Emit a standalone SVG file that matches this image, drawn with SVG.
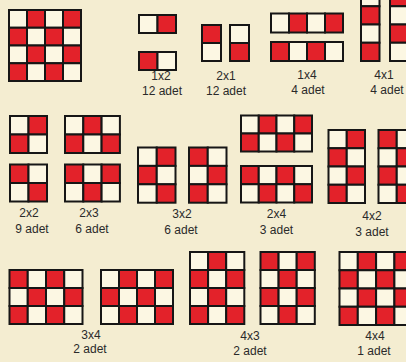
<svg xmlns="http://www.w3.org/2000/svg" width="406" height="362" viewBox="0 0 406 362">
<style>
.bg{fill:#f4edd1}
.r{fill:#e3222a}
.w{fill:#fcf7e3}
.grid rect{stroke:#161616;stroke-width:2}
.lbl{font-family:"Liberation Sans",Arial,sans-serif;font-size:12px;fill:#2a2a2a;text-anchor:middle}
</style>
<rect class="bg" x="0" y="0" width="406" height="362"/>

<g id="board" class="grid">
<rect class="w" x="9" y="10" width="18" height="17.75"/><rect class="r" x="27" y="10" width="18" height="17.75"/><rect class="w" x="45" y="10" width="18" height="17.75"/><rect class="r" x="63" y="10" width="18" height="17.75"/>
<rect class="r" x="9" y="27.75" width="18" height="17.75"/><rect class="w" x="27" y="27.75" width="18" height="17.75"/><rect class="r" x="45" y="27.75" width="18" height="17.75"/><rect class="w" x="63" y="27.75" width="18" height="17.75"/>
<rect class="w" x="9" y="45.5" width="18" height="17.75"/><rect class="r" x="27" y="45.5" width="18" height="17.75"/><rect class="w" x="45" y="45.5" width="18" height="17.75"/><rect class="r" x="63" y="45.5" width="18" height="17.75"/>
<rect class="r" x="9" y="63.25" width="18" height="17.75"/><rect class="w" x="27" y="63.25" width="18" height="17.75"/><rect class="r" x="45" y="63.25" width="18" height="17.75"/><rect class="w" x="63" y="63.25" width="18" height="17.75"/>
</g>

<g id="n1x2" class="grid">
<rect class="w" x="139" y="15" width="18.5" height="18"/><rect class="r" x="157.5" y="15" width="18.5" height="18"/>
<rect class="r" x="139" y="52" width="18.5" height="18"/><rect class="w" x="157.5" y="52" width="18.5" height="18"/>
<text class="lbl" x="161" y="80">1x2</text><text class="lbl" x="162" y="95">12 adet</text>
</g>

<g id="n2x1" class="grid">
<rect class="r" x="202" y="25" width="19" height="18"/><rect class="w" x="202" y="43" width="19" height="18"/>
<rect class="w" x="230" y="25" width="19" height="18"/><rect class="r" x="230" y="43" width="19" height="18"/>
<text class="lbl" x="226" y="80">2x1</text><text class="lbl" x="226" y="95">12 adet</text>
</g>

<g id="n1x4" class="grid">
<rect class="w" x="271" y="13.5" width="18" height="19"/><rect class="r" x="289" y="13.5" width="18" height="19"/><rect class="w" x="307" y="13.5" width="18" height="19"/><rect class="r" x="325" y="13.5" width="18" height="19"/>
<rect class="r" x="271" y="42" width="18" height="19"/><rect class="w" x="289" y="42" width="18" height="19"/><rect class="r" x="307" y="42" width="18" height="19"/><rect class="w" x="325" y="42" width="18" height="19"/>
<text class="lbl" x="307" y="79">1x4</text><text class="lbl" x="308" y="94">4 adet</text>
</g>

<g id="n4x1" class="grid">
<rect class="w" x="361" y="-12" width="18.5" height="18.25"/><rect class="r" x="361" y="6.25" width="18.5" height="18.25"/><rect class="w" x="361" y="24.5" width="18.5" height="18.25"/><rect class="r" x="361" y="42.75" width="18.5" height="18.25"/>
<rect class="r" x="390" y="-12" width="18.5" height="18.25"/><rect class="w" x="390" y="6.25" width="18.5" height="18.25"/><rect class="r" x="390" y="24.5" width="18.5" height="18.25"/><rect class="w" x="390" y="42.75" width="18.5" height="18.25"/>
<text class="lbl" x="384" y="79">4x1</text><text class="lbl" x="387" y="94">4 adet</text>
</g>

<g id="n2x2" class="grid">
<rect class="w" x="10" y="116" width="18.5" height="18.5"/><rect class="r" x="28.5" y="116" width="18.5" height="18.5"/>
<rect class="r" x="10" y="134.5" width="18.5" height="18.5"/><rect class="w" x="28.5" y="134.5" width="18.5" height="18.5"/>
<rect class="r" x="10" y="164.5" width="18.5" height="18.5"/><rect class="w" x="28.5" y="164.5" width="18.5" height="18.5"/>
<rect class="w" x="10" y="183" width="18.5" height="18.5"/><rect class="r" x="28.5" y="183" width="18.5" height="18.5"/>
<text class="lbl" x="29" y="217">2x2</text><text class="lbl" x="32" y="233">9 adet</text>
</g>

<g id="n2x3" class="grid">
<rect class="w" x="65" y="116" width="18.3" height="18.5"/><rect class="r" x="83.3" y="116" width="18.3" height="18.5"/><rect class="w" x="101.6" y="116" width="18.3" height="18.5"/>
<rect class="r" x="65" y="134.5" width="18.3" height="18.5"/><rect class="w" x="83.3" y="134.5" width="18.3" height="18.5"/><rect class="r" x="101.6" y="134.5" width="18.3" height="18.5"/>
<rect class="r" x="65" y="164.5" width="18.3" height="18.5"/><rect class="w" x="83.3" y="164.5" width="18.3" height="18.5"/><rect class="r" x="101.6" y="164.5" width="18.3" height="18.5"/>
<rect class="w" x="65" y="183" width="18.3" height="18.5"/><rect class="r" x="83.3" y="183" width="18.3" height="18.5"/><rect class="w" x="101.6" y="183" width="18.3" height="18.5"/>
<text class="lbl" x="89" y="217">2x3</text><text class="lbl" x="92" y="233">6 adet</text>
</g>

<g id="n3x2" class="grid">
<rect class="w" x="138" y="147.5" width="18.75" height="18.4"/><rect class="r" x="156.75" y="147.5" width="18.75" height="18.4"/>
<rect class="r" x="138" y="165.9" width="18.75" height="18.4"/><rect class="w" x="156.75" y="165.9" width="18.75" height="18.4"/>
<rect class="w" x="138" y="184.3" width="18.75" height="18.4"/><rect class="r" x="156.75" y="184.3" width="18.75" height="18.4"/>
<rect class="r" x="189" y="147.5" width="18.75" height="18.4"/><rect class="w" x="207.75" y="147.5" width="18.75" height="18.4"/>
<rect class="w" x="189" y="165.9" width="18.75" height="18.4"/><rect class="r" x="207.75" y="165.9" width="18.75" height="18.4"/>
<rect class="r" x="189" y="184.3" width="18.75" height="18.4"/><rect class="w" x="207.75" y="184.3" width="18.75" height="18.4"/>
<text class="lbl" x="182" y="217.5">3x2</text><text class="lbl" x="181" y="233.5">6 adet</text>
</g>

<g id="n2x4" class="grid">
<rect class="w" x="241" y="115.5" width="17.75" height="18"/><rect class="r" x="258.75" y="115.5" width="17.75" height="18"/><rect class="w" x="276.5" y="115.5" width="17.75" height="18"/><rect class="r" x="294.25" y="115.5" width="17.75" height="18"/>
<rect class="r" x="241" y="133.5" width="17.75" height="18"/><rect class="w" x="258.75" y="133.5" width="17.75" height="18"/><rect class="r" x="276.5" y="133.5" width="17.75" height="18"/><rect class="w" x="294.25" y="133.5" width="17.75" height="18"/>
<rect class="r" x="241" y="166" width="17.75" height="18.25"/><rect class="w" x="258.75" y="166" width="17.75" height="18.25"/><rect class="r" x="276.5" y="166" width="17.75" height="18.25"/><rect class="w" x="294.25" y="166" width="17.75" height="18.25"/>
<rect class="w" x="241" y="184.25" width="17.75" height="18.25"/><rect class="r" x="258.75" y="184.25" width="17.75" height="18.25"/><rect class="w" x="276.5" y="184.25" width="17.75" height="18.25"/><rect class="r" x="294.25" y="184.25" width="17.75" height="18.25"/>
<text class="lbl" x="276.5" y="217.5">2x4</text><text class="lbl" x="276.5" y="233.5">3 adet</text>
</g>

<g id="n4x2" class="grid">
<rect class="w" x="328.5" y="130" width="18.25" height="18.25"/><rect class="r" x="346.75" y="130" width="18.25" height="18.25"/>
<rect class="r" x="328.5" y="148.25" width="18.25" height="18.25"/><rect class="w" x="346.75" y="148.25" width="18.25" height="18.25"/>
<rect class="w" x="328.5" y="166.5" width="18.25" height="18.25"/><rect class="r" x="346.75" y="166.5" width="18.25" height="18.25"/>
<rect class="r" x="328.5" y="184.75" width="18.25" height="18.25"/><rect class="w" x="346.75" y="184.75" width="18.25" height="18.25"/>
<rect class="r" x="378.5" y="130" width="18.25" height="18.25"/><rect class="w" x="396.75" y="130" width="18.25" height="18.25"/>
<rect class="w" x="378.5" y="148.25" width="18.25" height="18.25"/><rect class="r" x="396.75" y="148.25" width="18.25" height="18.25"/>
<rect class="r" x="378.5" y="166.5" width="18.25" height="18.25"/><rect class="w" x="396.75" y="166.5" width="18.25" height="18.25"/>
<rect class="w" x="378.5" y="184.75" width="18.25" height="18.25"/><rect class="r" x="396.75" y="184.75" width="18.25" height="18.25"/>
<text class="lbl" x="372" y="220">4x2</text><text class="lbl" x="372" y="235.5">3 adet</text>
</g>

<g id="n3x4" class="grid">
<rect class="r" x="9.5" y="270" width="18.25" height="18"/><rect class="w" x="27.75" y="270" width="18.25" height="18"/><rect class="r" x="46" y="270" width="18.25" height="18"/><rect class="w" x="64.25" y="270" width="18.25" height="18"/>
<rect class="w" x="9.5" y="288" width="18.25" height="18"/><rect class="r" x="27.75" y="288" width="18.25" height="18"/><rect class="w" x="46" y="288" width="18.25" height="18"/><rect class="r" x="64.25" y="288" width="18.25" height="18"/>
<rect class="r" x="9.5" y="306" width="18.25" height="18"/><rect class="w" x="27.75" y="306" width="18.25" height="18"/><rect class="r" x="46" y="306" width="18.25" height="18"/><rect class="w" x="64.25" y="306" width="18.25" height="18"/>
<rect class="w" x="101" y="270" width="18" height="18"/><rect class="r" x="119" y="270" width="18" height="18"/><rect class="w" x="137" y="270" width="18" height="18"/><rect class="r" x="155" y="270" width="18" height="18"/>
<rect class="r" x="101" y="288" width="18" height="18"/><rect class="w" x="119" y="288" width="18" height="18"/><rect class="r" x="137" y="288" width="18" height="18"/><rect class="w" x="155" y="288" width="18" height="18"/>
<rect class="w" x="101" y="306" width="18" height="18"/><rect class="r" x="119" y="306" width="18" height="18"/><rect class="w" x="137" y="306" width="18" height="18"/><rect class="r" x="155" y="306" width="18" height="18"/>
<text class="lbl" x="91" y="339">3x4</text><text class="lbl" x="90" y="353">2 adet</text>
</g>

<g id="n4x3" class="grid">
<rect class="w" x="190" y="252" width="18.1" height="18"/><rect class="r" x="208.1" y="252" width="18.1" height="18"/><rect class="w" x="226.2" y="252" width="18.1" height="18"/>
<rect class="r" x="190" y="270" width="18.1" height="18"/><rect class="w" x="208.1" y="270" width="18.1" height="18"/><rect class="r" x="226.2" y="270" width="18.1" height="18"/>
<rect class="w" x="190" y="288" width="18.1" height="18"/><rect class="r" x="208.1" y="288" width="18.1" height="18"/><rect class="w" x="226.2" y="288" width="18.1" height="18"/>
<rect class="r" x="190" y="306" width="18.1" height="18"/><rect class="w" x="208.1" y="306" width="18.1" height="18"/><rect class="r" x="226.2" y="306" width="18.1" height="18"/>
<rect class="r" x="260.5" y="252" width="18.1" height="18"/><rect class="w" x="278.6" y="252" width="18.1" height="18"/><rect class="r" x="296.7" y="252" width="18.1" height="18"/>
<rect class="w" x="260.5" y="270" width="18.1" height="18"/><rect class="r" x="278.6" y="270" width="18.1" height="18"/><rect class="w" x="296.7" y="270" width="18.1" height="18"/>
<rect class="r" x="260.5" y="288" width="18.1" height="18"/><rect class="w" x="278.6" y="288" width="18.1" height="18"/><rect class="r" x="296.7" y="288" width="18.1" height="18"/>
<rect class="w" x="260.5" y="306" width="18.1" height="18"/><rect class="r" x="278.6" y="306" width="18.1" height="18"/><rect class="w" x="296.7" y="306" width="18.1" height="18"/>
<text class="lbl" x="250" y="340">4x3</text><text class="lbl" x="250" y="355">2 adet</text>
</g>

<g id="n4x4" class="grid">
<rect class="w" x="339.5" y="252" width="18.3" height="18.25"/><rect class="r" x="357.8" y="252" width="18.3" height="18.25"/><rect class="w" x="376.1" y="252" width="18.3" height="18.25"/><rect class="r" x="394.4" y="252" width="18.3" height="18.25"/>
<rect class="r" x="339.5" y="270.25" width="18.3" height="18.25"/><rect class="w" x="357.8" y="270.25" width="18.3" height="18.25"/><rect class="r" x="376.1" y="270.25" width="18.3" height="18.25"/><rect class="w" x="394.4" y="270.25" width="18.3" height="18.25"/>
<rect class="w" x="339.5" y="288.5" width="18.3" height="18.25"/><rect class="r" x="357.8" y="288.5" width="18.3" height="18.25"/><rect class="w" x="376.1" y="288.5" width="18.3" height="18.25"/><rect class="r" x="394.4" y="288.5" width="18.3" height="18.25"/>
<rect class="r" x="339.5" y="306.75" width="18.3" height="18.25"/><rect class="w" x="357.8" y="306.75" width="18.3" height="18.25"/><rect class="r" x="376.1" y="306.75" width="18.3" height="18.25"/><rect class="w" x="394.4" y="306.75" width="18.3" height="18.25"/>
<text class="lbl" x="375" y="340">4x4</text><text class="lbl" x="374" y="355">1 adet</text>
</g>

<g id="connectors"/>
</svg>
